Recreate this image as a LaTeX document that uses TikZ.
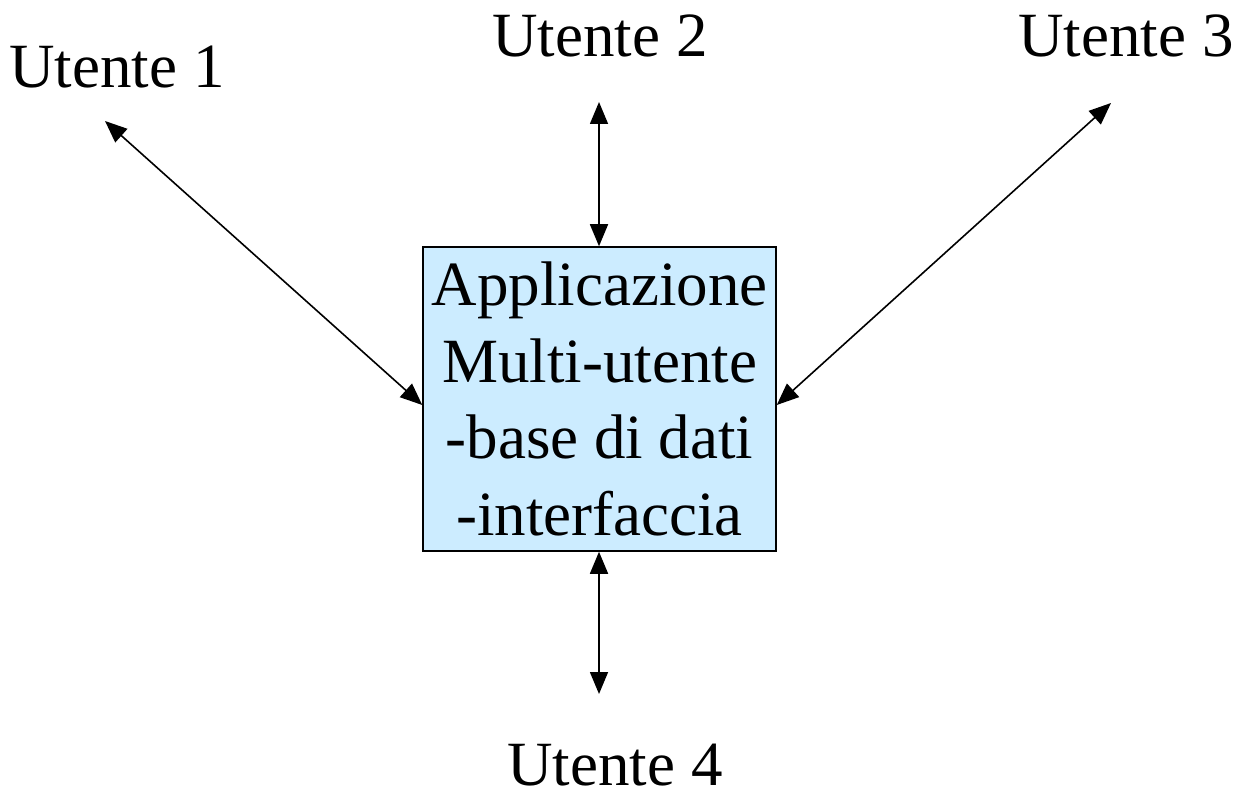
\documentclass[tikz,border=0pt]{standalone}
\usepackage{fontspec}
\setmainfont{Liberation Serif}
\usetikzlibrary{positioning,arrows.meta,calc}
\definecolor{appblue}{HTML}{CCECFF}
\tikzset{
  lnk/.style={{Triangle[length=22pt,width=18pt]}-{Triangle[length=22pt,width=18pt]},line width=1.6pt},
  usr/.style={anchor=base,inner sep=0pt,font=\fontsize{63}{76.5}\selectfont},
  appbox/.style={draw,fill=appblue,line width=1.5pt,minimum width=353pt,minimum height=304pt,
    align=center,inner sep=0pt,font=\fontsize{63}{76.5}\selectfont},
}
\begin{document}
\begin{tikzpicture}[x=1pt,y=-1pt]
  \useasboundingbox (0,0) rectangle (1238,794);
  \node[appbox] (app) at (599.5,399) {Applicazione\\Multi-utente\\-base di dati\\-interfaccia};
  % users around the application
  \node[usr] (u1) at (117,88) {Utente 1};
  \node[usr] (u2) at (600,57) {Utente 2};
  \node[usr] (u3) at (1126,57) {Utente 3};
  \node[usr] (u4) at (615,785) {Utente 4};
  % free arrow ends near the labels
  \coordinate (e1) at (105,121);
  \coordinate (e2) at (599,102);
  \coordinate (e3) at (1111,103);
  \coordinate (e4) at (599,694);
  \draw[lnk] (e1) -- ($(app.west)+(0,6)$);
  \draw[lnk] (e2) -- (app.north -| e2);
  \draw[lnk] (e3) -- ($(app.east)+(0,6)$);
  \draw[lnk] (app.south -| e4) -- (e4);
\end{tikzpicture}
\end{document}
